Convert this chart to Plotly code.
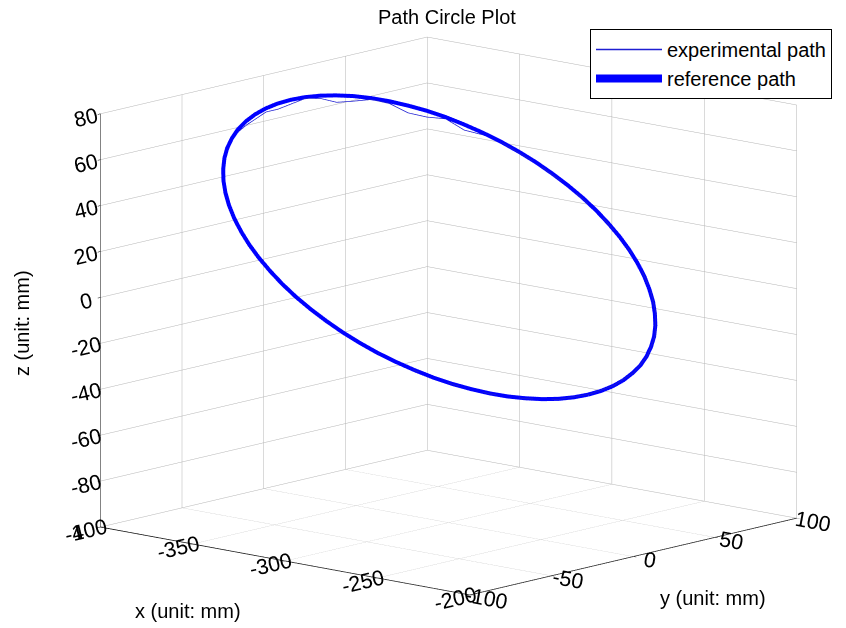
import plotly.graph_objects as go

# Reference path (circle), every 5 degrees around the loop
ref_x = [-224.5, -224.8, -225.7, -227.2, -229.4, -232.0, -235.3, -239.1, -243.3, -248.1,
         -253.3, -258.8, -264.8, -271.0, -277.5, -284.2, -291.0, -298.0, -305.0, -312.0,
         -319.0, -325.8, -332.5, -339.0, -345.3, -351.2, -356.8, -361.9, -366.7, -371.0,
         -374.7, -378.0, -380.6, -382.8, -384.3, -385.2, -385.5, -385.2, -384.3, -382.8,
         -380.6, -378.0, -374.7, -371.0, -366.7, -361.9, -356.8, -351.2, -345.3, -339.0,
         -332.5, -325.8, -319.0, -312.0, -305.0, -298.0, -291.0, -284.2, -277.5, -271.0,
         -264.8, -258.8, -253.3, -248.1, -243.3, -239.1, -235.3, -232.0, -229.4, -227.2,
         -225.7, -224.8, -224.5]
ref_y = [0.0, 8.4, 16.7, 24.8, 32.8, 40.6, 48.0, 55.1, 61.7, 67.9,
         73.5, 78.6, 83.1, 87.0, 90.2, 92.7, 94.5, 95.6, 96.0, 95.6,
         94.5, 92.7, 90.2, 87.0, 83.1, 78.6, 73.5, 67.9, 61.7, 55.1,
         48.0, 40.6, 32.8, 24.8, 16.7, 8.4, 0.0, -8.4, -16.7, -24.8,
         -32.8, -40.6, -48.0, -55.1, -61.7, -67.9, -73.5, -78.6, -83.1, -87.0,
         -90.2, -92.7, -94.5, -95.6, -96.0, -95.6, -94.5, -92.7, -90.2, -87.0,
         -83.1, -78.6, -73.5, -67.9, -61.7, -55.1, -48.0, -40.6, -32.8, -24.8,
         -16.7, -8.4, 0.0]
ref_z = [-33.1, -32.9, -32.3, -31.3, -29.9, -28.2, -26.1, -23.6, -20.9, -17.8,
         -14.4, -10.8, -7.0, -2.9, 1.3, 5.7, 10.1, 14.6, 19.2, 23.8,
         28.3, 32.7, 37.1, 41.3, 45.4, 49.2, 52.8, 56.2, 59.3, 62.0,
         64.5, 66.6, 68.4, 69.7, 70.7, 71.3, 71.5, 71.3, 70.7, 69.7,
         68.4, 66.6, 64.5, 62.0, 59.3, 56.2, 52.8, 49.2, 45.4, 41.3,
         37.1, 32.7, 28.3, 23.8, 19.2, 14.6, 10.1, 5.7, 1.3, -2.9,
         -7.0, -10.8, -14.4, -17.8, -20.9, -23.6, -26.1, -28.2, -29.9, -31.3,
         -32.3, -32.9, -33.1]

# Experimental path
exp_x = [-224.0, -225.3, -229.0, -235.0, -243.0, -253.0, -264.6, -277.3, -290.8, -304.8,
         -318.8, -332.3, -345.1, -351.0, -356.6, -361.7, -366.5, -370.7, -374.5, -377.8,
         -380.4, -382.6, -384.1, -385.0, -385.3, -385.0, -384.1, -382.6, -380.4, -377.8,
         -374.5, -366.5, -356.6, -345.1, -332.3, -318.8, -304.8, -290.8, -277.3, -264.6,
         -253.1, -243.1, -235.1, -229.2, -225.5, -224.0]
exp_y = [0.3, 16.9, 33.1, 48.3, 62.0, 73.8, 83.4, 90.4, 94.6, 96.1,
         94.6, 90.3, 83.2, 78.7, 73.6, 68.0, 61.8, 55.2, 48.1, 40.7,
         32.9, 24.9, 16.8, 8.5, 0.1, -8.3, -16.6, -24.7, -32.7, -40.5,
         -47.9, -61.6, -73.4, -83.0, -90.1, -94.4, -95.9, -94.4, -90.1, -83.0,
         -73.4, -61.6, -47.9, -32.7, -16.6, 0.3]
exp_z = [-32.9, -32.0, -29.7, -25.8, -20.6, -14.2, -6.9, 1.2, 9.9, 18.9,
         27.9, 36.7, 45.1, 48.2, 50.3, 55.4, 56.5, 58.8, 63.5, 66.0,
         66.2, 66.7, 69.5, 70.8, 69.7, 68.9, 69.2, 67.7, 66.8, 65.6,
         64.0, 59.0, 52.6, 45.2, 36.9, 28.1, 19.0, 9.9, 1.1, -7.2,
         -14.6, -21.1, -26.3, -30.1, -32.5, -32.9]

x_ticks = [-400, -350, -300, -250, -200]
y_ticks = [-100, -50, 0, 50, 100]
z_ticks = [-100, -80, -60, -40, -20, 0, 20, 40, 60, 80]

FONT = "Liberation Sans, Arial, sans-serif"

fig = go.Figure()
fig.add_trace(go.Scatter3d(x=exp_x, y=exp_y, z=exp_z, mode="lines",
                           name="experimental path",
                           line=dict(color="rgb(30,30,210)", width=1.5)))
fig.add_trace(go.Scatter3d(x=ref_x, y=ref_y, z=ref_z, mode="lines",
                           name="reference path",
                           line=dict(color="rgb(0,0,255)", width=8)))

def ax(rng, ticks):
    return dict(range=rng, tickvals=ticks, ticktext=[str(t) for t in ticks],
                autorange=False, showbackground=False, showgrid=True,
                gridcolor="rgb(180,180,180)", gridwidth=1, zeroline=False,
                showline=True, linecolor="black", linewidth=1.5,
                ticks="outside", ticklen=4, tickcolor="black",
                tickfont=dict(family=FONT, size=16, color="black"),
                showspikes=False, title=dict(text=""))

fig.update_layout(
    width=846, height=628,
    margin=dict(l=0, r=0, t=0, b=0),
    paper_bgcolor="white",
    font=dict(family=FONT, color="black"),
    scene=dict(
        domain=dict(x=[0.0601, 1.0], y=[0.0, 0.9936]),
        xaxis=ax([-400, -200], x_ticks),
        yaxis=ax([-100, 100], y_ticks),
        zaxis=ax([-100, 80], z_ticks),
        aspectmode="manual",
        aspectratio=dict(x=1.581, y=1.581, z=1.354),
        camera=dict(projection=dict(type="orthographic"),
                    up=dict(x=0, y=0, z=1),
                    center=dict(x=0, y=0, z=0),
                    eye=dict(x=0.998, y=-1.128, z=0.320)),
    ),
    showlegend=True,
    legend=dict(x=590 / 846, y=1 - 29 / 628, xanchor="left", yanchor="top",
                bgcolor="white", bordercolor="black", borderwidth=1,
                font=dict(family=FONT, size=20, color="black"),
                itemwidth=66, tracegroupgap=0),
    annotations=[
        dict(text="Path Circle Plot", x=446.5 / 846, y=1 - 16.5 / 628, xref="paper", yref="paper",
             showarrow=False, font=dict(family=FONT, size=20), xanchor="center", yanchor="middle"),
        dict(text="x (unit: mm)", x=188 / 846, y=1 - 611 / 628, xref="paper", yref="paper",
             showarrow=False, font=dict(family=FONT, size=20), xanchor="center", yanchor="middle"),
        dict(text="y (unit: mm)", x=713 / 846, y=1 - 598 / 628, xref="paper", yref="paper",
             showarrow=False, font=dict(family=FONT, size=20), xanchor="center", yanchor="middle"),
        dict(text="z (unit: mm)", x=22 / 846, y=1 - 323 / 628, xref="paper", yref="paper",
             showarrow=False, textangle=-90, font=dict(family=FONT, size=20),
             xanchor="center", yanchor="middle"),
    ],
)

fig.write_html("out.html")
